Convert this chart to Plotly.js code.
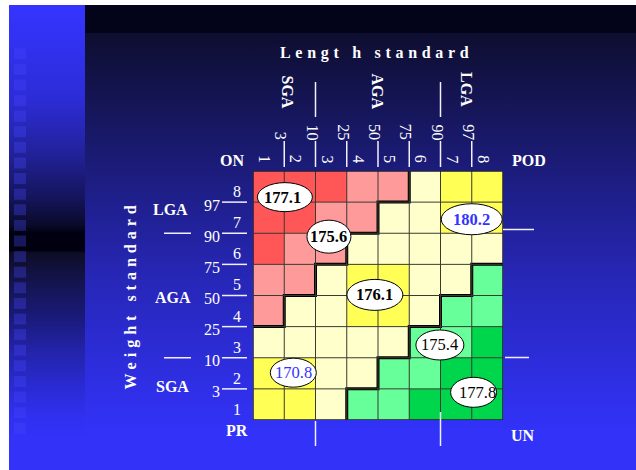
<!DOCTYPE html>
<html>
<head>
<meta charset="utf-8">
<script src="https://cdn.plot.ly/plotly-3.0.1.min.js"></script>
<style>html,body{margin:0;padding:0;background:#fff;}#chart{width:636px;height:470px;}</style>
</head>
<body>
<div id="chart"></div>
<script>
// ---------- data ----------
const colCats = [1, 2, 3, 4, 5, 6, 7, 8];           // length categories (left -> right)
const rowCats = [1, 2, 3, 4, 5, 6, 7, 8];           // weight categories (bottom -> top)
const colLabels = ['1', '2', '3', '4', '5', '6', '7', '8'];
const rowLabels = ['1', '2', '3', '4', '5', '6', '7', '8'];
const lengthPct = ['3', '10', '25', '50', '75', '90', '97'];
const weightPct = ['3', '10', '25', '50', '75', '90', '97'];
const lengthGroups = ['SGA', 'AGA', 'LGA'];
const weightGroups = ['SGA', 'AGA', 'LGA'];
// cell class per row (row 1 first): 0 red, 1 pink, 2 light yellow, 3 yellow, 4 light green, 5 green
const row1 = [3, 3, 2, 4, 4, 5, 5, 5];
const row2 = [3, 3, 2, 2, 4, 4, 5, 5];
const row3 = [2, 2, 2, 2, 2, 4, 4, 5];
const row4 = [1, 2, 2, 3, 3, 2, 4, 4];
const row5 = [1, 1, 2, 3, 3, 2, 2, 4];
const row6 = [0, 1, 1, 2, 2, 2, 2, 2];
const row7 = [0, 0, 1, 1, 2, 2, 3, 3];
const row8 = [0, 0, 0, 1, 1, 2, 3, 3];
const cellClass = [row1, row2, row3, row4, row5, row6, row7, row8];
const labelText = ['177.1', '175.6', '180.2', '176.1', '175.4', '170.8', '177.8'];
const labelCol = [1.52, 2.93, 7.50, 4.40, 6.48, 1.79, 7.56];
const labelRow = [7.66, 6.39, 6.95, 4.52, 2.91, 2.02, 1.39];

// ---------- styles ----------
const classColors = ['#FF5757', '#FF9A9A', '#FFFFCC', '#FFFF55', '#66FF99', '#00D64B'];
const labelW = [55, 44, 61, 56, 48, 46, 46];
const labelH = [29, 33, 31, 31, 30, 29, 30];
const labelColor = ['#000', '#000', '#3333FF', '#000', '#000', '#3333FF', '#000'];
const labelWeight = ['bold', 'bold', 'bold', 'bold', 'normal', 'normal', 'normal'];
const labelShift = [-2, 0, 0, 0, 0, 0, 4];
const SERIF = 'Liberation Serif, Times New Roman, serif';
const W = 636, H = 470;

const traces = [];
function rect(x0, x1, y0, y1, color, grad) {
  const t = {
    type: 'scatter', mode: 'lines', xaxis: 'x', yaxis: 'y',
    x: [x0, x1, x1, x0, x0], y: [y0, y0, y1, y1, y0],
    fill: 'toself', fillcolor: color, line: {width: 0, color: 'rgba(0,0,0,0)'},
    hoverinfo: 'skip', showlegend: false
  };
  if (grad) t.fillgradient = grad;
  traces.push(t);
}
// background
rect(9, 636, 5, 470, '#3232F8');
rect(85, 636, 5, 33, '#03031A');
rect(85, 636, 33, 470, '#0E0E30', {type: 'vertical', start: 33, stop: 430,
  colorscale: [[0, '#0E0E30'], [0.25, '#181866'], [0.6, '#2626B4'], [1, '#3232F8']]});
rect(9, 85, 5, 436, '#3232F8', {type: 'vertical', start: 5, stop: 436,
  colorscale: [[0, '#3434FF'], [0.07, '#3232F4'], [0.22, '#2C2CD6'], [0.34, '#22229C'],
               [0.45, '#14145A'], [0.51, '#0A0A2A'], [0.53, '#000010'], [0.57, '#000010'],
               [0.575, '#0D0D26'], [0.645, '#141450'], [0.725, '#1A1A7A'], [0.8, '#2323A8'],
               [0.88, '#2A2AD0'], [0.955, '#3030F0'], [1, '#3232F8']]});

// heatmap
traces.push({
  type: 'heatmap', xaxis: 'x2', yaxis: 'y2', x: colCats, y: rowCats, z: cellClass,
  zmin: -0.5, zmax: 5.5, showscale: false, hoverinfo: 'skip',
  colorscale: classColors.flatMap((c, i) => [[i / 6, c], [(i + 1) / 6, c]])
});

// thick boundaries computed from the classes
const upX = [], upY = [];
cellClass.forEach((row, r) => {
  let p = 0; while (p < row.length && row[p] <= 1) p++;
  if (p > 0) {
    if (!upX.length) { upX.push(0.5); upY.push(r + 0.5); }
    upX.push(p + 0.5, p + 0.5); upY.push(r + 0.5, r + 1.5);
  }
});
const loX = [], loY = [];
cellClass.forEach((row, r) => {
  const g = row.findIndex(v => v >= 4);
  if (g >= 0) { loX.push(g + 0.5, g + 0.5); loY.push(r + 0.5, r + 1.5); }
});
loX.push(8.5); loY.push(loY[loY.length - 1]);
[[upX, upY], [loX, loY]].forEach(([xs, ys]) => traces.push({
  type: 'scatter', mode: 'lines', xaxis: 'x2', yaxis: 'y2', x: xs, y: ys,
  line: {color: '#000', width: 3}, hoverinfo: 'skip', showlegend: false
}));

// ---------- shapes ----------
const shapes = [];
for (let i = 0; i < 25; i++) {
  const y0 = 48.3 + i * 15.6;
  shapes.push({type: 'rect', xref: 'x', yref: 'y', x0: 14, x1: 26, y0: y0, y1: y0 + 11,
    fillcolor: 'rgba(70,70,255,0.32)', line: {width: 0}, layer: 'above'});
}
for (let k = 0; k <= 8; k++) {
  const v = k + 0.5;
  shapes.push({type: 'line', xref: 'x2', yref: 'y2', x0: v, x1: v, y0: 0.5, y1: 8.5,
    line: {color: (k === 0 || k === 8) ? '#202010' : '#3A3A30', width: (k === 0 || k === 8) ? 1.5 : 1}});
  shapes.push({type: 'line', xref: 'x2', yref: 'y2', x0: 0.5, x1: 8.5, y0: v, y1: v,
    line: {color: (k === 0 || k === 8) ? '#202010' : '#3A3A30', width: (k === 0 || k === 8) ? 1.5 : 1}});
}
const WL = {color: '#F0F0FF', width: 1.5};
// top percentile ticks and group separators
lengthPct.forEach((p, i) => shapes.push({type: 'line', xref: 'x2', yref: 'y', x0: i + 1.5, x1: i + 1.5, y0: 141, y1: 167, line: WL}));
[2.5, 6.5].forEach(v => shapes.push({type: 'line', xref: 'x2', yref: 'y', x0: v, x1: v, y0: 82, y1: 117, line: WL}));
[2.5, 6.5].forEach((v, i) => shapes.push({type: 'line', xref: 'x2', yref: 'y', x0: v, x1: v, y0: i ? 412 : 421, y1: 446, line: WL}));
// left percentile ticks and group separators
weightPct.forEach((p, i) => shapes.push({type: 'line', xref: 'x', yref: 'y2', x0: 222, x1: 247, y0: i + 1.5, y1: i + 1.5, line: WL}));
[2.5, 6.5].forEach(v => shapes.push({type: 'line', xref: 'x', yref: 'y2', x0: 164, x1: 191, y0: v, y1: v, line: WL}));
shapes.push({type: 'line', xref: 'x', yref: 'y', x0: 503, x1: 534, y0: 229.5, y1: 229.5, line: WL});
shapes.push({type: 'line', xref: 'x', yref: 'y', x0: 505, x1: 529, y0: 357.5, y1: 357.5, line: WL});
// ellipses
labelText.forEach((t, i) => shapes.push({
  type: 'circle', xref: 'x2', yref: 'y2', xsizemode: 'pixel', ysizemode: 'pixel',
  xanchor: labelCol[i], yanchor: labelRow[i],
  x0: -labelW[i] / 2, x1: labelW[i] / 2, y0: -labelH[i] / 2, y1: labelH[i] / 2,
  fillcolor: '#FFFFFF', line: {color: '#000', width: 1}
}));

// ---------- annotations ----------
const ann = [];
function txt(text, x, y, o) {
  ann.push(Object.assign({text: text, x: x, y: y, xref: 'x', yref: 'y', showarrow: false,
    font: {family: SERIF, size: 16, color: '#FFFFFF'}}, o || {}));
}
const BOLD = {family: SERIF, size: 16, color: '#FFFFFF', weight: 'bold'};
txt('<span style="letter-spacing:4.7px">Lengt h standard</span>', 376, 53, {font: BOLD});
txt('<span style="letter-spacing:5px">Weight standard</span>', 130, 295.5, {font: BOLD, textangle: -90});
[287, 377, 467].forEach((x, i) => txt(lengthGroups[i], x, [91.5, 91.5, 89][i], {font: BOLD, textangle: 90}));
[[170, 209], [173, 297.7], [172, 386]].reverse().forEach(([x, y], i) => txt(weightGroups[i], x, y, {font: BOLD}));
txt('ON', 231.5, 160, {font: BOLD});
txt('POD', 529, 160, {font: BOLD});
txt('PR', 236.5, 430.5, {font: BOLD});
txt('UN', 523, 435, {font: BOLD});
colLabels.forEach((l, i) => txt(l, colCats[i], 159, {xref: 'x2', xshift: -3.5, textangle: 90}));
lengthPct.forEach((l, i) => txt(l, i + 1.5, 142, {xref: 'x2', xshift: -3, textangle: 90, yanchor: 'bottom'}));
rowLabels.forEach((l, i) => txt(l, 236.7, rowCats[i], {yref: 'y2', yshift: -5}));
weightPct.forEach((l, i) => txt(l, 222, i + 1.5, {yref: 'y2', yshift: -3, xanchor: 'right'}));
labelText.forEach((t, i) => ann.push({
  text: t, x: labelCol[i], y: labelRow[i], xref: 'x2', yref: 'y2', showarrow: false,
  xshift: labelShift[i],
  font: {family: SERIF, size: 16.5, color: labelColor[i], weight: labelWeight[i]}
}));

const layout = {
  width: W, height: H, margin: {l: 0, r: 0, t: 0, b: 0},
  paper_bgcolor: '#FFFFFF', plot_bgcolor: 'rgba(0,0,0,0)', showlegend: false,
  xaxis: {domain: [0, 1], range: [0, W], visible: false, fixedrange: true},
  yaxis: {domain: [0, 1], range: [H, 0], visible: false, fixedrange: true},
  xaxis2: {domain: [253 / W, 503 / W], range: [0.5, 8.5], anchor: 'y2', visible: false, fixedrange: true},
  yaxis2: {domain: [50 / H, 299 / H], range: [0.5, 8.5], anchor: 'x2', visible: false, fixedrange: true},
  shapes: shapes, annotations: ann
};
Plotly.newPlot('chart', traces, layout, {displayModeBar: false, staticPlot: true});
</script>
</body>
</html>
